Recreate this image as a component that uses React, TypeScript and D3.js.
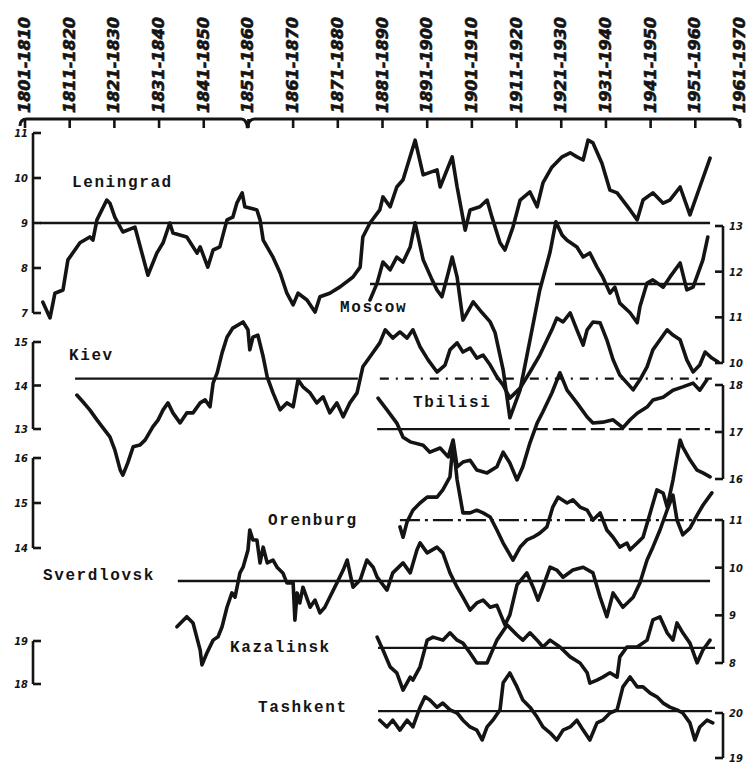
import * as d3 from 'd3';

// decade captions along the top
const decades = [
  '1801-1810', '1811-1820', '1821-1830', '1831-1840', '1841-1850', '1851-1860',
  '1861-1870', '1871-1880', '1881-1890', '1891-1900', '1901-1910', '1911-1920',
  '1921-1930', '1931-1940', '1941-1950', '1951-1960', '1961-1970',
];
const decadeStarts = [1801, 1811, 1821, 1831, 1841, 1851, 1861, 1871, 1881, 1891, 1901, 1911, 1921, 1931, 1941, 1951, 1961];

// axis ticks per station
const leningradTicks = [11, 10, 9, 8, 7];
const kievTicks = [15, 14, 13];
const orenburgTicks = [16, 15, 14];
const kazalinskTicks = [19, 18];
const moscowTicks = [13, 12, 11, 10];
const tbilisiTicks = [18, 17, 16];
const sverdlovskTicks = [11, 10, 9, 8];
const tashkentTicks = [20, 19];

// smoothed series, [year, value]
const leningrad = [
  [1805.0, 7.24], [1806.6, 6.89], [1807.7, 7.44], [1809.5, 7.51], [1810.6, 8.18], [1813.3, 8.56],
  [1815.5, 8.69], [1816.2, 8.62], [1817.1, 9.07], [1819.3, 9.51], [1820.0, 9.44], [1821.1, 9.13],
  [1822.9, 8.8], [1825.6, 8.91], [1828.5, 7.84], [1830.5, 8.33], [1831.9, 8.56], [1833.4, 9.0],
  [1834.1, 8.78], [1837.2, 8.69], [1839.5, 8.33], [1840.2, 8.47], [1841.9, 8.02], [1843.1, 8.4],
  [1844.6, 8.47], [1846.2, 9.07], [1847.5, 9.13], [1848.4, 9.44], [1849.6, 9.67], [1850.2, 9.36],
  [1852.9, 9.29], [1853.6, 9.07], [1854.3, 8.62], [1856.5, 8.24], [1858.1, 7.89], [1859.6, 7.44],
  [1861.0, 7.18], [1862.1, 7.44], [1864.1, 7.29], [1865.9, 7.02], [1867.0, 7.36], [1869.2, 7.44],
  [1871.5, 7.58], [1874.4, 7.8], [1876.0, 8.02], [1876.6, 8.69], [1878.2, 9.0], [1880.4, 9.29],
  [1881.1, 9.58], [1882.7, 9.36], [1884.2, 9.8], [1885.6, 9.96], [1888.3, 10.84], [1890.1, 10.07],
  [1893.2, 10.18], [1893.9, 9.8], [1896.6, 10.47], [1897.7, 9.8], [1899.5, 8.84], [1900.6, 9.29],
  [1902.8, 9.36], [1904.4, 9.51], [1905.5, 9.13], [1907.3, 8.56], [1908.4, 8.4], [1910.2, 8.91],
  [1911.8, 9.51], [1914.0, 9.69], [1915.6, 9.36], [1916.9, 9.89], [1918.9, 10.24], [1921.2, 10.47],
  [1923.0, 10.56], [1924.5, 10.47], [1925.9, 10.4], [1927.0, 10.84], [1928.1, 10.78], [1930.1, 10.33],
  [1931.9, 9.73], [1933.5, 9.67], [1936.4, 9.29], [1938.0, 9.07], [1939.3, 9.51], [1941.5, 9.67],
  [1943.8, 9.44], [1945.3, 9.51], [1947.6, 9.8], [1949.8, 9.18], [1952.0, 9.8], [1954.3, 10.44],
];

const moscow = [
  [1878.2, 11.38], [1879.8, 11.75], [1881.1, 12.21], [1882.7, 12.04], [1884.2, 12.32], [1885.6, 12.21],
  [1887.2, 12.54], [1888.3, 13.07], [1890.1, 12.26], [1892.1, 11.82], [1893.2, 11.6], [1894.3, 11.45],
  [1895.7, 11.97], [1896.6, 12.32], [1897.7, 11.88], [1899.0, 10.94], [1901.3, 11.34], [1903.3, 11.1],
  [1905.1, 10.9], [1906.2, 10.66], [1908.0, 9.85], [1909.5, 8.8], [1911.8, 9.41], [1914.0, 10.5],
  [1916.2, 11.6], [1918.5, 12.43], [1919.8, 13.09], [1921.2, 12.8], [1922.3, 12.69], [1924.5, 12.54],
  [1925.9, 12.32], [1927.4, 12.41], [1929.0, 12.1], [1930.3, 11.88], [1931.9, 11.53], [1933.0, 11.66],
  [1934.1, 11.31], [1936.4, 11.1], [1938.0, 10.88], [1938.6, 11.23], [1940.2, 11.75], [1941.5, 11.82],
  [1943.8, 11.66], [1945.3, 11.88], [1947.6, 12.19], [1949.1, 11.6], [1950.5, 11.66], [1952.7, 12.26],
  [1953.8, 12.76],
];

const kiev = [
  [1812.6, 13.78], [1814.0, 13.62], [1815.5, 13.44], [1817.1, 13.21], [1818.5, 13.02], [1820.0, 12.82],
  [1821.1, 12.52], [1822.3, 12.06], [1822.9, 11.94], [1824.0, 12.22], [1825.2, 12.59], [1826.7, 12.63],
  [1827.9, 12.75], [1829.6, 13.05], [1830.8, 13.21], [1831.9, 13.44], [1833.0, 13.6], [1834.1, 13.37],
  [1835.7, 13.14], [1837.2, 13.37], [1838.6, 13.37], [1840.2, 13.6], [1841.3, 13.67], [1842.4, 13.51],
  [1843.1, 14.06], [1844.0, 14.29], [1845.1, 14.75], [1846.2, 15.11], [1847.5, 15.32], [1849.8, 15.46],
  [1850.9, 15.28], [1851.3, 14.82], [1852.0, 15.11], [1853.1, 15.16], [1854.3, 14.66], [1855.2, 14.2],
  [1856.5, 13.83], [1858.1, 13.44], [1859.6, 13.6], [1861.0, 13.51], [1862.1, 14.13], [1863.2, 13.97],
  [1864.8, 13.83], [1866.3, 13.6], [1867.7, 13.74], [1869.2, 13.37], [1870.8, 13.6], [1872.2, 13.28],
  [1873.7, 13.6], [1875.3, 13.83], [1876.6, 14.43], [1878.2, 14.66], [1880.4, 14.98], [1881.6, 15.28],
  [1883.3, 15.09], [1884.9, 15.23], [1886.5, 15.09], [1887.8, 15.28], [1889.4, 14.89], [1891.2, 14.59],
  [1893.2, 14.31], [1895.0, 14.47], [1896.1, 14.82], [1897.7, 14.98], [1899.0, 14.77], [1900.6, 14.86],
  [1902.1, 14.63], [1903.5, 14.7], [1905.1, 14.47], [1906.6, 14.2], [1908.0, 14.01], [1909.5, 13.71],
  [1911.8, 13.94], [1914.0, 14.31], [1916.2, 14.7], [1918.9, 15.28], [1920.0, 15.55], [1921.4, 15.46],
  [1923.0, 15.67], [1924.5, 15.28], [1925.9, 14.93], [1926.8, 15.28], [1928.1, 15.46], [1929.7, 15.44],
  [1931.2, 15.05], [1932.6, 14.59], [1934.1, 14.24], [1935.7, 14.06], [1937.1, 13.9], [1938.6, 14.13],
  [1940.2, 14.43], [1941.5, 14.82], [1943.1, 15.05], [1944.7, 15.28], [1946.0, 15.16], [1947.6, 15.05],
  [1949.1, 14.59], [1950.5, 14.31], [1952.0, 14.47], [1953.2, 14.77], [1954.7, 14.63], [1956.1, 14.54],
];

const tbilisi = [
  [1880.0, 17.72], [1882.0, 17.47], [1884.2, 17.19], [1885.6, 16.89], [1887.2, 16.79], [1890.1, 16.72],
  [1891.6, 16.57], [1893.9, 16.66], [1895.7, 16.47], [1896.8, 16.83], [1897.7, 16.26], [1899.0, 16.36],
  [1900.6, 16.4], [1902.1, 16.19], [1904.4, 16.13], [1906.6, 16.26], [1908.0, 16.57], [1909.5, 16.34],
  [1911.1, 15.98], [1912.4, 16.26], [1914.0, 16.77], [1915.6, 17.19], [1916.9, 17.43], [1918.9, 17.83],
  [1920.7, 18.26], [1922.3, 17.89], [1924.5, 17.62], [1926.8, 17.32], [1928.1, 17.19], [1930.3, 17.21],
  [1932.6, 17.26], [1934.8, 17.09], [1936.4, 17.26], [1938.0, 17.4], [1940.2, 17.53], [1941.5, 17.68],
  [1943.8, 17.74], [1946.0, 17.89], [1948.2, 17.96], [1950.5, 18.04], [1952.0, 17.89], [1953.6, 18.11],
];

const orenburg = [
  [1884.9, 14.47], [1885.6, 14.24], [1886.5, 14.58], [1887.8, 14.84], [1889.4, 15.0], [1891.0, 15.13],
  [1893.2, 15.13], [1894.5, 15.29], [1896.1, 15.58], [1896.8, 16.33], [1897.7, 15.51], [1899.0, 14.78],
  [1900.6, 14.78], [1902.1, 14.84], [1903.5, 14.78], [1905.1, 14.69], [1906.6, 14.4], [1908.0, 14.11],
  [1910.2, 13.73], [1911.8, 14.02], [1913.3, 14.18], [1914.7, 14.24], [1916.2, 14.33], [1917.8, 14.47],
  [1919.1, 14.91], [1920.3, 15.13], [1922.3, 15.0], [1923.6, 15.07], [1925.2, 14.91], [1926.8, 14.84],
  [1928.1, 14.62], [1929.7, 14.78], [1931.2, 14.4], [1932.6, 14.24], [1934.1, 14.02], [1935.7, 14.11],
  [1936.4, 13.96], [1938.0, 14.11], [1939.3, 14.24], [1940.9, 14.78], [1942.4, 15.29], [1943.8, 15.22],
  [1944.7, 14.91], [1946.0, 15.51], [1947.6, 16.4], [1948.2, 16.24], [1949.8, 15.96], [1951.4, 15.73],
  [1952.7, 15.67], [1954.3, 15.58],
];

const sverdlovsk = [
  [1835.0, 8.76], [1837.2, 8.97], [1838.6, 8.84], [1840.2, 8.27], [1840.6, 7.96], [1841.7, 8.21],
  [1843.1, 8.48], [1844.2, 8.55], [1845.1, 8.76], [1846.2, 9.17], [1847.3, 9.47], [1848.0, 9.38],
  [1849.1, 9.89], [1849.8, 10.01], [1850.9, 10.37], [1851.3, 10.79], [1852.0, 10.58], [1852.9, 10.58],
  [1853.6, 10.1], [1854.3, 10.43], [1855.2, 10.1], [1856.5, 10.16], [1857.4, 10.01], [1858.7, 9.89],
  [1859.6, 9.68], [1861.0, 9.68], [1861.4, 8.9], [1861.9, 9.47], [1862.5, 9.26], [1863.2, 9.59],
  [1864.8, 9.17], [1865.9, 9.32], [1867.0, 9.05], [1868.1, 9.17], [1869.2, 9.38], [1870.8, 9.68],
  [1872.2, 9.95], [1873.1, 10.16], [1874.4, 9.59], [1876.0, 9.74], [1877.5, 10.16], [1878.9, 10.01],
  [1879.8, 9.8], [1882.0, 9.53], [1883.3, 9.89], [1885.6, 10.1], [1887.2, 9.89], [1888.7, 10.37],
  [1889.4, 10.52], [1891.0, 10.31], [1893.2, 10.43], [1894.5, 10.31], [1896.1, 9.89], [1897.7, 9.59],
  [1899.0, 9.38], [1900.6, 9.11], [1902.1, 9.26], [1903.5, 9.32], [1905.1, 9.17], [1906.6, 9.21],
  [1908.4, 8.8], [1909.5, 9.01], [1911.1, 9.64], [1913.3, 9.89], [1914.7, 9.59], [1915.8, 9.32],
  [1916.9, 9.59], [1918.5, 10.01], [1920.0, 9.95], [1921.4, 9.8], [1923.6, 9.95], [1925.9, 10.01],
  [1928.1, 9.89], [1929.7, 9.38], [1931.2, 8.97], [1932.6, 9.47], [1934.8, 9.17], [1937.1, 9.38],
  [1938.6, 9.68], [1940.2, 10.16], [1941.5, 10.43], [1943.1, 10.79], [1944.7, 11.21], [1946.0, 11.52],
  [1946.9, 11.0], [1948.2, 10.69], [1949.8, 10.83], [1951.4, 11.1], [1952.7, 11.31], [1954.7, 11.57],
];

const kazalinsk = [
  [1879.8, 19.09], [1881.1, 18.79], [1882.7, 18.4], [1884.2, 18.26], [1885.6, 17.86], [1887.2, 18.16],
  [1887.8, 18.09], [1889.4, 18.4], [1891.0, 19.02], [1892.3, 19.09], [1894.5, 19.02], [1896.1, 19.19],
  [1897.7, 19.02], [1899.0, 18.95], [1900.6, 18.72], [1902.1, 18.49], [1904.4, 18.49], [1906.6, 19.02],
  [1908.9, 19.37], [1911.1, 19.14], [1912.4, 19.02], [1914.0, 19.19], [1915.6, 19.02], [1916.9, 18.86],
  [1918.5, 19.02], [1920.7, 18.86], [1923.0, 18.63], [1925.2, 18.49], [1926.8, 18.26], [1927.4, 18.02],
  [1929.0, 18.09], [1930.3, 18.16], [1931.9, 18.26], [1933.5, 18.16], [1934.1, 18.63], [1935.7, 18.86],
  [1938.0, 18.86], [1940.2, 19.02], [1941.5, 19.49], [1943.1, 19.56], [1944.7, 19.19], [1946.0, 19.02],
  [1946.9, 19.42], [1948.2, 19.19], [1949.8, 18.95], [1951.4, 18.49], [1952.7, 18.79], [1954.3, 19.02],
];

const tashkent = [
  [1880.4, 19.84], [1882.0, 19.69], [1883.3, 19.84], [1884.9, 19.62], [1886.5, 19.84], [1887.8, 19.69],
  [1889.4, 20.13], [1890.5, 20.36], [1891.6, 20.29], [1893.2, 20.13], [1894.5, 20.22], [1896.1, 20.07],
  [1897.7, 20.0], [1899.0, 19.84], [1900.6, 19.69], [1902.1, 19.62], [1903.3, 19.4], [1904.4, 19.69],
  [1905.7, 19.84], [1907.3, 20.07], [1908.0, 20.67], [1909.5, 20.89], [1911.1, 20.58], [1912.4, 20.29],
  [1914.0, 20.13], [1915.6, 19.91], [1916.9, 19.69], [1918.5, 19.56], [1920.0, 19.4], [1921.4, 19.62],
  [1923.0, 19.69], [1924.5, 19.84], [1925.9, 19.62], [1927.4, 19.4], [1929.0, 19.78], [1930.3, 19.84],
  [1931.9, 20.0], [1933.5, 20.07], [1934.8, 20.58], [1936.4, 20.8], [1938.0, 20.58], [1939.3, 20.58],
  [1940.9, 20.44], [1942.4, 20.36], [1943.8, 20.22], [1945.3, 20.13], [1946.9, 20.07], [1948.2, 20.0],
  [1949.8, 19.78], [1950.9, 19.4], [1952.0, 19.69], [1953.6, 19.84], [1954.9, 19.78],
];

// long-term means with the years they are drawn over
const meanLines = [
  { city: 'Leningrad', value: 9, spans: [[1804.4, 1954.3]] },
  { city: 'Moscow', value: 11.73, spans: [[1878.2, 1916.2], [1919.6, 1953.2]] },
  { city: 'Kiev', value: 14.16, spans: [[1812.2, 1875.5], [1880.4, 1954.7]] },
  { city: 'Tbilisi', value: 17.06, spans: [[1879.8, 1909.5], [1910.6, 1954.3]] },
  { city: 'Orenburg', value: 14.62, spans: [[1884.9, 1954.7]] },
  { city: 'Sverdlovsk', value: 9.72, spans: [[1835.2, 1954.3]] },
  { city: 'Kazalinsk', value: 18.84, spans: [[1880.0, 1955.4]] },
  { city: 'Tashkent', value: 20.04, spans: [[1880.0, 1954.7]] },
];

const INK = '#141414';

export default function App() {
  const x = d3.scaleLinear().domain([1801, 1961]).range([25, 740]);

  const y: Record<string, d3.ScaleLinear<number, number>> = {
    Leningrad: d3.scaleLinear().domain([7, 11]).range([313, 133]),
    Kiev: d3.scaleLinear().domain([13, 15]).range([429, 342]),
    Orenburg: d3.scaleLinear().domain([14, 16]).range([548, 458]),
    Kazalinsk: d3.scaleLinear().domain([18, 19]).range([684, 641]),
    Moscow: d3.scaleLinear().domain([10, 13]).range([363, 226]),
    Tbilisi: d3.scaleLinear().domain([16, 18]).range([479, 385]),
    Sverdlovsk: d3.scaleLinear().domain([8, 11]).range([663, 520]),
    Tashkent: d3.scaleLinear().domain([19, 20]).range([758, 713]),
  };

  const series = [
    { city: 'Leningrad', data: leningrad },
    { city: 'Moscow', data: moscow },
    { city: 'Kiev', data: kiev },
    { city: 'Tbilisi', data: tbilisi },
    { city: 'Orenburg', data: orenburg },
    { city: 'Sverdlovsk', data: sverdlovsk },
    { city: 'Kazalinsk', data: kazalinsk },
    { city: 'Tashkent', data: tashkent },
  ];

  const leftAxes = [
    { city: 'Leningrad', ticks: leningradTicks },
    { city: 'Kiev', ticks: kievTicks },
    { city: 'Orenburg', ticks: orenburgTicks },
    { city: 'Kazalinsk', ticks: kazalinskTicks },
  ];
  const rightAxes = [
    { city: 'Moscow', ticks: moscowTicks },
    { city: 'Tbilisi', ticks: tbilisiTicks },
    { city: 'Sverdlovsk', ticks: sverdlovskTicks },
    { city: 'Tashkent', ticks: tashkentTicks },
  ];

  // where the station names sit
  const nameSpots: Record<string, [number, number]> = {
    Leningrad: [72, 187],
    Moscow: [340, 312],
    Kiev: [69, 360],
    Tbilisi: [413, 407],
    Orenburg: [268, 525],
    Sverdlovsk: [43, 580],
    Kazalinsk: [230, 652],
    Tashkent: [258, 712],
  };

  const dashFor = (city: string, i: number) => {
    if (city === 'Kiev' && i === 1) return '9 7 2 7';
    if (city === 'Tbilisi' && i === 1) return '14 5';
    if (city === 'Orenburg') return '20 5 3 5';
    return undefined;
  };

  const numFont = {
    fontFamily: 'DejaVu Sans Condensed, DejaVu Sans, sans-serif',
    fontWeight: 900,
    fontStyle: 'italic',
    fontSize: 11,
    fill: INK,
  } as const;

  const leftX = 33;
  const rightX = 723;
  const bracketY = 119;
  const mid = x(1851);

  return (
    <svg
      width={753}
      height={767}
      style={{ position: 'fixed', left: 0, top: 0, background: '#fff', display: 'block' }}
    >
      {/* decade captions */}
      {decades.map((label, i) => {
        const tx = x(decadeStarts[i]);
        return (
          <text
            key={label}
            transform={`translate(${tx + 5},113) rotate(-90)`}
            textLength={96}
            lengthAdjust="spacingAndGlyphs"
            style={{ ...numFont, fontSize: 15 }}
            stroke={INK}
            strokeWidth={0.6}
          >
            {label}
          </text>
        );
      })}

      {/* brace under the captions */}
      <path
        d={`M20,${bracketY + 7} Q20,${bracketY} 27,${bracketY} L${mid - 7},${bracketY} Q${mid - 2},${bracketY} ${mid - 1},${bracketY + 9} Q${mid},${bracketY} ${mid + 6},${bracketY} L733,${bracketY} Q740,${bracketY} 740,${bracketY + 7}`}
        fill="none"
        stroke={INK}
        strokeWidth={3}
      />
      {decadeStarts.map((yr) => (
        <line key={yr} x1={x(yr)} x2={x(yr)} y1={bracketY} y2={bracketY + 9} stroke={INK} strokeWidth={2.6} />
      ))}

      {/* left axes */}
      {leftAxes.map(({ city, ticks }) => {
        const s = y[city];
        const [lo, hi] = d3.extent(ticks) as [number, number];
        return (
          <g key={city}>
            <line x1={leftX} x2={leftX} y1={s(hi)} y2={s(lo)} stroke={INK} strokeWidth={2.6} />
            {ticks.map((t) => (
              <g key={t}>
                <line x1={leftX} x2={leftX + 8} y1={s(t)} y2={s(t)} stroke={INK} strokeWidth={2.6} />
                <text x={leftX - 5} y={s(t) + 4} textAnchor="end" style={numFont}>
                  {t}
                </text>
              </g>
            ))}
          </g>
        );
      })}

      {/* right axes */}
      {rightAxes.map(({ city, ticks }) => {
        const s = y[city];
        const [lo, hi] = d3.extent(ticks) as [number, number];
        return (
          <g key={city}>
            <line x1={rightX} x2={rightX} y1={s(hi)} y2={s(lo)} stroke={INK} strokeWidth={2.6} />
            {ticks.map((t) => (
              <g key={t}>
                <line x1={rightX - 8} x2={rightX} y1={s(t)} y2={s(t)} stroke={INK} strokeWidth={2.6} />
                <text x={rightX + 6} y={s(t) + 4} textAnchor="start" style={numFont}>
                  {t}
                </text>
              </g>
            ))}
          </g>
        );
      })}

      {/* mean levels */}
      {meanLines.map(({ city, value, spans }) =>
        spans.map(([a, b], i) => (
          <line
            key={`${city}-${i}`}
            x1={x(a)}
            x2={x(b)}
            y1={y[city](value)}
            y2={y[city](value)}
            stroke={INK}
            strokeWidth={2.3}
            strokeDasharray={dashFor(city, i)}
          />
        )),
      )}

      {/* series */}
      {series.map(({ city, data }) => {
        const line = d3
          .line<number[]>()
          .x((d) => x(d[0]))
          .y((d) => y[city](d[1]));
        return (
          <path
            key={city}
            d={line(data) ?? ''}
            fill="none"
            stroke={INK}
            strokeWidth={3.6}
            strokeLinejoin="round"
            strokeLinecap="round"
          />
        );
      })}

      {/* station names */}
      {Object.entries(nameSpots).map(([city, [nx, ny]]) => (
        <text
          key={city}
          x={nx}
          y={ny}
          style={{
            fontFamily: 'Liberation Mono, DejaVu Sans Mono, monospace',
            fontWeight: 700,
            fontSize: 16,
            letterSpacing: 1.6,
            fill: INK,
          }}
        >
          {city}
        </text>
      ))}
    </svg>
  );
}
